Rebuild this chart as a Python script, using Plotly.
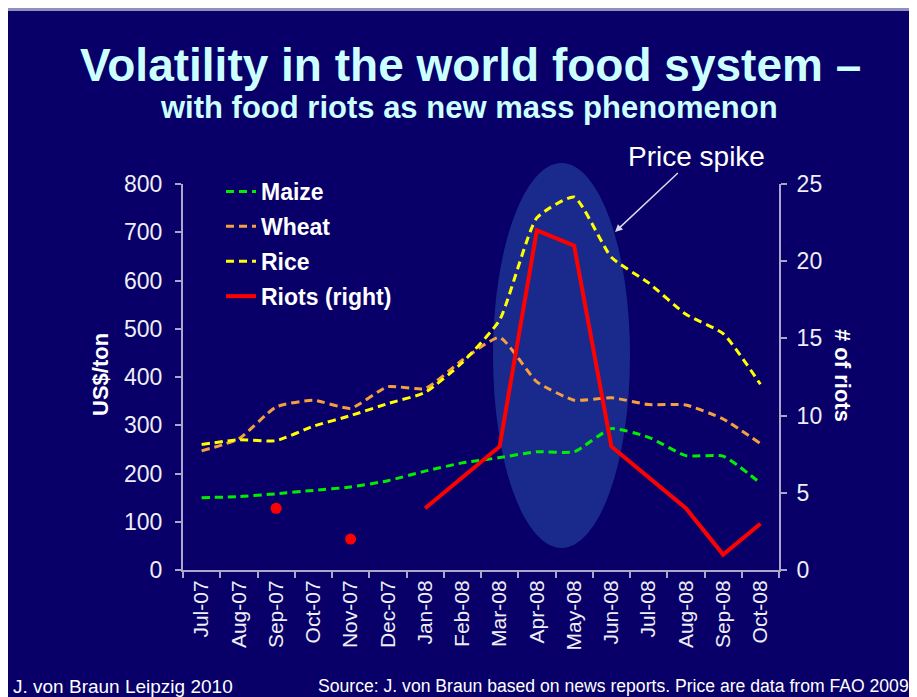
import plotly.graph_objects as go

months = ["Jul-07", "Aug-07", "Sep-07", "Oct-07", "Nov-07", "Dec-07", "Jan-08", "Feb-08",
          "Mar-08", "Apr-08", "May-08", "Jun-08", "Jul-08", "Aug-08", "Sep-08", "Oct-08"]
maize = [150, 152, 158, 165, 172, 185, 205, 222, 233, 245, 245, 293, 275, 237, 236, 180]
wheat = [247, 272, 338, 352, 335, 380, 376, 435, 482, 390, 352, 357, 343, 342, 313, 262]
rice = [260, 270, 268, 298, 320, 345, 368, 430, 518, 730, 773, 648, 595, 530, 490, 385]
riots = [None, None, 4, None, 2, None, 4, 6, 8, 22, 21, 8, 6, 4, 1, 3]

# page body has an 8px margin; figure sized to fill the rest of the window
OFF = 8
W, H = 917 - OFF, 697 - OFF
L, R, T, B = 175, 138, 176, 127
PW, PH = W - L - R, H - T - B


def px(x):  # reference-window x -> paper
    return (x - OFF - L) / PW


def py(y):  # reference-window y -> paper
    return (H - B - (y - OFF)) / PH


BG = "#080068"
TXT = "#eeeef6"

# isolated riot observations are shown as dots
iso_x, iso_y = [], []
for i, v in enumerate(riots):
    prev_ok = i > 0 and riots[i - 1] is not None
    next_ok = i < len(riots) - 1 and riots[i + 1] is not None
    if v is not None and not prev_ok and not next_ok:
        iso_x.append(months[i])
        iso_y.append(v)

fig = go.Figure()
dash = "8px,5px"
fig.add_trace(go.Scatter(x=months, y=maize, name="Maize", mode="lines", legendgroup="a",
                         line=dict(color="#00ee00", width=3, dash=dash, shape="spline", smoothing=0.5)))
fig.add_trace(go.Scatter(x=months, y=wheat, name="Wheat", mode="lines", legendgroup="b",
                         line=dict(color="#f5a040", width=3, dash=dash, shape="spline", smoothing=0.5)))
fig.add_trace(go.Scatter(x=months, y=rice, name="Rice", mode="lines", legendgroup="c",
                         line=dict(color="#ffff00", width=3, dash=dash, shape="spline", smoothing=0.5)))
fig.add_trace(go.Scatter(x=months, y=riots, name="Riots (right)", mode="lines", legendgroup="d",
                         yaxis="y2", connectgaps=False, line=dict(color="#ff0000", width=4)))
fig.add_trace(go.Scatter(x=iso_x, y=iso_y, mode="markers", yaxis="y2", showlegend=False,
                         legendgroup="d", marker=dict(color="#ff0000", size=11, opacity=1,
                                                      line=dict(width=0))))

shapes = [
    dict(type="rect", xref="paper", yref="paper", x0=px(0), x1=px(917), y0=py(11), y1=py(8),
         fillcolor="#9090c0", line=dict(width=0), layer="below"),
    dict(type="circle", xref="paper", yref="paper", x0=px(493), x1=px(630), y0=py(548), y1=py(163),
         fillcolor="#1a2a8c", line=dict(width=0), layer="below"),
]


def ann(text, x, y, size, color="white", xanchor="center", angle=0):
    return dict(text=text, x=px(x), y=py(y), xref="paper", yref="paper", showarrow=False,
                xanchor=xanchor, yanchor="middle", textangle=angle,
                font=dict(size=size, color=color))


annotations = [
    ann("<b>Volatility in the world food system –</b>", 470, 65, 46, "#ccffff"),
    ann("<b>with food riots as new mass phenomenon</b>", 469, 108, 31, "#ccffff"),
    ann("<b>US$/ton</b>", 100, 375, 22, angle=-90),
    ann("<b># of riots</b>", 843, 375, 22, angle=90),
    ann("J. von Braun Leipzig 2010", 11, 686, 19, xanchor="left"),
    ann("Source: J. von Braun based on news reports. Price are data from FAO 2009", 911, 686, 17.6,
        xanchor="right"),
    dict(text="Price spike", x=px(615), y=py(232), xref="paper", yref="paper", showarrow=True,
         ax=81, ay=-76, arrowhead=2, arrowsize=1, arrowwidth=1.5, arrowcolor="#d8d8e8",
         xanchor="center", yanchor="middle", font=dict(size=28, color="white")),
]

axis_common = dict(showgrid=False, zeroline=False, showline=True, linecolor="#a8a8c8", linewidth=2,
                   ticks="outside", ticklen=6, tickcolor="#a8a8c8", tickwidth=2,
                   tickfont=dict(size=23, color=TXT))

fig.update_layout(
    width=W, height=H,
    margin=dict(l=L, r=R, t=T, b=B, autoexpand=False),
    paper_bgcolor=BG, plot_bgcolor="rgba(0,0,0,0)",
    font=dict(family="Liberation Sans, Arial, sans-serif", color="white"),
    xaxis=dict(type="category", tickangle=-90, tickson="boundaries", range=[-0.5, len(months) - 0.5],
               **{**axis_common, "tickfont": dict(size=21, color=TXT)}),
    yaxis=dict(range=[0, 800], dtick=100, ticklabelstandoff=8, **axis_common),
    yaxis2=dict(range=[0, 25], dtick=5, overlaying="y", side="right", ticklabelstandoff=5, **axis_common),
    legend=dict(x=px(221), y=py(170), xanchor="left", yanchor="top", bgcolor="rgba(0,0,0,0)",
                font=dict(size=23, color="white", family="Liberation Sans, Arial, sans-serif",
                          weight="bold"),
                tracegroupgap=2, itemwidth=30),
    shapes=shapes,
    annotations=annotations,
)

fig.write_html("out.html")
